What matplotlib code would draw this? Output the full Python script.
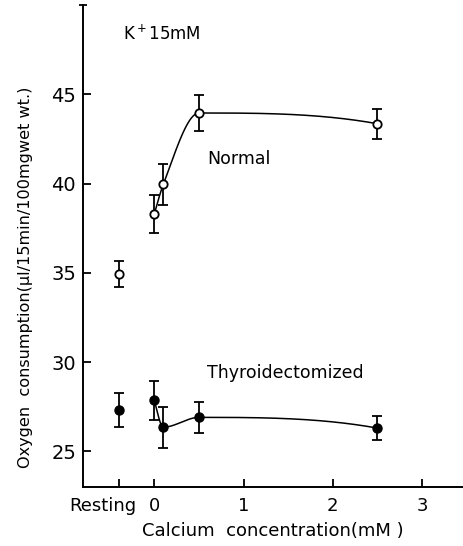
import matplotlib
matplotlib.use("Agg")
import matplotlib.pyplot as plt
import matplotlib.transforms as mtransforms
import numpy as np

# calcium concentration (mM) and oxygen consumption
ca_x = [0.0, 0.1, 0.5, 2.5]
normal_y = [38.3, 39.95, 43.95, 43.35]
normal_err = [1.05, 1.15, 1.0, 0.85]
normal_rest = 34.95
normal_rest_err = 0.73

thyro_y = [27.85, 26.35, 26.9, 26.3]
thyro_err = [1.1, 1.15, 0.85, 0.65]
thyro_rest = 27.3
thyro_rest_err = 0.95

rest_pos = -0.4
xtick_pos = [rest_pos, 0, 1, 2, 3]
xtick_labels = ["Resting", "0", "1", "2", "3"]
ytick_pos = [25, 30, 35, 40, 45]


def pchip(x, y, n=300):
	# monotone cubic (Fritsch-Carlson) for the hand drawn connecting curve
	x = np.asarray(x, float)
	y = np.asarray(y, float)
	h = np.diff(x)
	delta = np.diff(y) / h
	d = np.zeros_like(y)
	for k in range(1, len(x) - 1):
		if delta[k - 1] * delta[k] > 0:
			w1 = 2 * h[k] + h[k - 1]
			w2 = h[k] + 2 * h[k - 1]
			d[k] = (w1 + w2) / (w1 / delta[k - 1] + w2 / delta[k])

	def end(h0, h1, d0, d1):
		v = ((2 * h0 + h1) * d0 - h0 * d1) / (h0 + h1)
		if np.sign(v) != np.sign(d0):
			return 0.0
		if np.sign(d0) != np.sign(d1) and abs(v) > abs(3 * d0):
			return 3 * d0
		return v

	d[0] = end(h[0], h[1], delta[0], delta[1])
	d[-1] = end(h[-1], h[-2], delta[-1], delta[-2])
	xs = np.linspace(x[0], x[-1], n)
	k = np.clip(np.searchsorted(x, xs) - 1, 0, len(h) - 1)
	t = (xs - x[k]) / h[k]
	h00 = 2 * t**3 - 3 * t**2 + 1
	h10 = t**3 - 2 * t**2 + t
	h01 = -2 * t**3 + 3 * t**2
	h11 = t**3 - t**2
	ys = h00 * y[k] + h10 * h[k] * d[k] + h01 * y[k + 1] + h11 * h[k] * d[k + 1]
	return xs, ys


plt.rcParams['font.family'] = ['DejaVu Sans']
fig = plt.figure(figsize=(4.63, 5.46), dpi=100)
ax = fig.add_axes([83 / 463, 59 / 546, 380 / 463, 482 / 546])

ebkw = dict(fmt='none', ecolor='black', elinewidth=1.3, capsize=3.5, capthick=1.3, zorder=2)

# Normal
xs, ys = pchip(ca_x, normal_y)
ax.plot(xs, ys, color='black', lw=1.1, zorder=1)
ax.errorbar(ca_x, normal_y, yerr=normal_err, **ebkw)
ax.errorbar([rest_pos], [normal_rest], yerr=[normal_rest_err], **ebkw)
ax.plot(ca_x + [rest_pos], normal_y + [normal_rest], 'o', ms=6, mfc='white', mec='black', mew=1.3, zorder=3)

# Thyroidectomized
xs, ys = pchip(ca_x, thyro_y)
ax.plot(xs, ys, color='black', lw=1.1, zorder=1)
ax.errorbar(ca_x, thyro_y, yerr=thyro_err, **ebkw)
ax.errorbar([rest_pos], [thyro_rest], yerr=[thyro_rest_err], **ebkw)
ax.plot(ca_x + [rest_pos], thyro_y + [thyro_rest], 'o', ms=6.5, mfc='black', mec='black', zorder=3)

ax.set_xlim(-0.8, 3.46)
ax.set_ylim(23.0, 50.0)
ax.spines['top'].set_visible(False)
ax.spines['right'].set_visible(False)
ax.spines['left'].set_linewidth(1.4)
ax.spines['bottom'].set_linewidth(1.4)

ax.set_xticks(xtick_pos)
ax.set_xticklabels(xtick_labels)
ax.set_yticks(ytick_pos)
ax.set_yticks([50], minor=True)
ax.tick_params(axis='both', which='major', direction='in', length=6, width=1.3, labelsize=13)
ax.tick_params(axis='y', which='major', labelsize=14)
ax.tick_params(axis='x', which='major', pad=7)
ax.tick_params(axis='y', which='major', pad=5)
ax.tick_params(axis='y', which='minor', direction='inout', length=6, width=1.3)

# the Resting label sits a little left of its tick
off = mtransforms.ScaledTranslation(-16 / 100, 0, fig.dpi_scale_trans)
lab = ax.get_xticklabels()[0]
lab.set_transform(lab.get_transform() + off)

ax.set_xlabel('Calcium  concentration(mM )', fontsize=13)
ax.xaxis.set_label_coords(0.5, -0.073)
ax.set_ylabel('Oxygen  consumption(\u03bcl/15min/100mgwet wt.)', fontsize=11.6)
ax.yaxis.set_label_coords(-0.132, 0.436)

ax.text(-0.35, 48.4, 'K$^+$15mM', fontsize=12, va='center', ha='left')
ax.text(0.59, 41.36, 'Normal', fontsize=12.5, va='center', ha='left')
ax.text(0.59, 29.37, 'Thyroidectomized', fontsize=12.5, va='center', ha='left')

fig.savefig('out.png', dpi=100)
